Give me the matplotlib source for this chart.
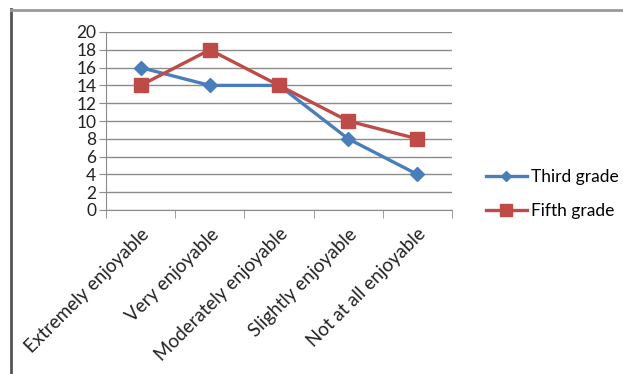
import matplotlib.pyplot as plt
from matplotlib.lines import Line2D
import numpy as np

categories = ["Extremely enjoyable", "Very enjoyable", "Moderately enjoyable",
              "Slightly enjoyable", "Not at all enjoyable"]
third_grade = [16, 14, 14, 8, 4]
fifth_grade = [14, 18, 14, 10, 8]

plt.rcParams['font.family'] = ['Lato', 'DejaVu Sans']

W, H = 623, 374
fig = plt.figure(figsize=(W / 100, H / 100), dpi=100)
ax = fig.add_axes([106 / W, 1 - 210 / H, 346 / W, 178 / H])

x = np.arange(len(categories))
ax.plot(x, third_grade, color="#4A7EBB", lw=2.4, marker="D", ms=7,
        label="Third grade", zorder=3)
ax.plot(x, fifth_grade, color="#BE4B48", lw=2.4, marker="s", ms=10,
        label="Fifth grade", zorder=3)

ax.set_xlim(-0.5, len(categories) - 0.5)
ax.set_ylim(0, 20)
ax.set_yticks(np.arange(0, 21, 2))
ax.yaxis.grid(True, color="#8c8c8c", lw=1)
ax.set_axisbelow(True)
for s in ["top", "right"]:
    ax.spines[s].set_visible(False)
ax.spines["left"].set_color("#8c8c8c")
ax.spines["bottom"].set_color("#8c8c8c")
ax.tick_params(axis="y", length=5, color="#8c8c8c", labelsize=12.5,
               labelcolor="#222222", pad=2)

ax.set_xticks(x)
ax.set_xticklabels(categories, rotation=45, ha="right",
                   rotation_mode="anchor", fontsize=13.5, color="#222222")
ax.tick_params(axis="x", which="major", length=0, pad=11)
ax.set_xticks(np.arange(-0.5, len(categories)), minor=True)
ax.tick_params(axis="x", which="minor", length=6, color="#8c8c8c")

leg = ax.legend(loc="center left", bbox_to_anchor=(470 / W, 1 - 194 / H),
                bbox_transform=fig.transFigure, frameon=False, fontsize=12.5,
                handlelength=2.4, handletextpad=0.2, labelspacing=1.0,
                markerscale=0.8)

# outer chart frame
fig.add_artist(Line2D([11 / W, 11 / W], [0, 1 - 9 / H], color="#555555",
                      lw=2, transform=fig.transFigure))
fig.add_artist(Line2D([11 / W, 1], [1 - 10 / H, 1 - 10 / H], color="#999999",
                      lw=2, transform=fig.transFigure))

fig.savefig("out.png", dpi=100)
